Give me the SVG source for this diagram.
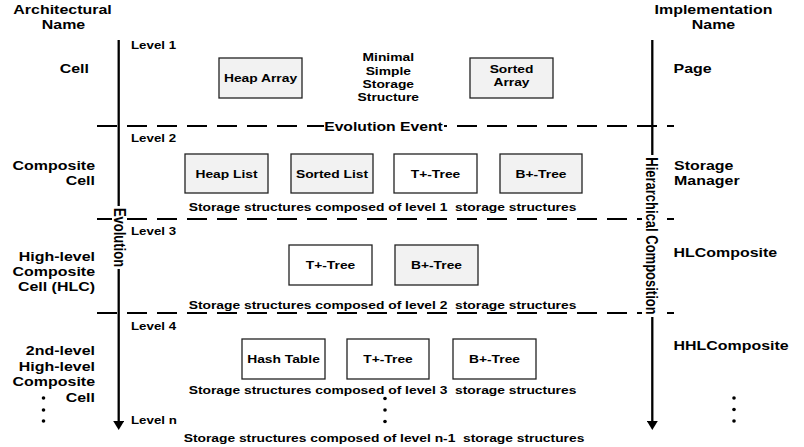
<svg xmlns="http://www.w3.org/2000/svg" width="804" height="447" viewBox="0 0 804 447">
<style>
  text { font-family: "Liberation Sans", Arial, sans-serif; font-weight: bold; fill: #000; }
  .h { font-size: 12px; }
  .s { font-size: 10.4px; }
  .lv { font-size: 10px; }
  .v { font-size: 13px; }
  .cap { white-space: pre; }
  .box { stroke: #222; stroke-width: 1.3; }
  .g { fill: #f2f2f2; }
  .w { fill: #ffffff; }
  .dash { stroke: #000; stroke-width: 2.1; stroke-dasharray: 20 10; fill: none; }
  .axis { stroke: #000; stroke-width: 2.3; fill: none; }
  .dot { fill: #000; }
</style>
<defs>
  <marker id="arr" viewBox="0 0 10 10" refX="0" refY="5" markerWidth="9" markerHeight="11" markerUnits="userSpaceOnUse" orient="auto" preserveAspectRatio="none">
    <path d="M0,0 L10,5 L0,10 z" fill="#000"/>
  </marker>
</defs>
<rect width="804" height="447" fill="#fff"/>

<!-- connectors: axes and level separators -->
<g id="connectors">
  <line class="dash" x1="97" y1="126" x2="674" y2="126"/>
  <line class="dash" x1="97" y1="219" x2="674" y2="219"/>
  <line class="dash" x1="97" y1="313" x2="674" y2="313"/>
  <line class="axis" x1="118.7" y1="40" x2="118.7" y2="421" marker-end="url(#arr)"/>
  <line class="axis" x1="652.3" y1="40" x2="652.3" y2="421" marker-end="url(#arr)"/>
</g>

<!-- axis labels -->
<g id="evolution-event">
  <rect x="324" y="119" width="120" height="14" fill="#fff"/>
  <text class="h" text-anchor="middle" transform="translate(383.5 130.5) scale(1.31 1)">Evolution Event</text>
</g>
<g id="evolution-axis-label">
  <rect x="112" y="206" width="15" height="63" fill="#fff"/>
  <text class="v" text-anchor="middle" transform="translate(113.5 237.5) scale(1.33 1) rotate(90)">Evolution</text>
</g>
<g id="composition-axis-label">
  <rect x="642" y="155" width="18" height="162" fill="#fff"/>
  <text class="v" text-anchor="middle" transform="translate(645.5 236) scale(1.33 1) rotate(90)">Hierarchical Composition</text>
</g>

<!-- column headers -->
<g id="header-architectural">
  <text class="h" text-anchor="middle" transform="translate(62.5 13.5) scale(1.33 1)">Architectural</text>
  <text class="h" text-anchor="middle" transform="translate(63.5 29.3) scale(1.33 1)">Name</text>
</g>
<g id="header-implementation">
  <text class="h" text-anchor="middle" transform="translate(713.5 13.5) scale(1.33 1)">Implementation</text>
  <text class="h" text-anchor="middle" transform="translate(713.5 29.3) scale(1.33 1)">Name</text>
</g>

<!-- level labels -->
<g id="levels">
  <text class="lv" transform="translate(131 48.5) scale(1.33 1)">Level 1</text>
  <text class="lv" transform="translate(131 141.7) scale(1.33 1)">Level 2</text>
  <text class="lv" transform="translate(131 235) scale(1.33 1)">Level 3</text>
  <text class="lv" transform="translate(131 330) scale(1.33 1)">Level 4</text>
  <text class="lv" transform="translate(131 424) scale(1.33 1)">Level n</text>
</g>

<!-- architectural names -->
<g id="arch-cell">
  <text class="h" text-anchor="end" transform="translate(89 72.7) scale(1.33 1)">Cell</text>
</g>
<g id="arch-composite-cell">
  <text class="h" text-anchor="end" transform="translate(95 169.5) scale(1.33 1)">Composite</text>
  <text class="h" text-anchor="end" transform="translate(95 184.5) scale(1.33 1)">Cell</text>
</g>
<g id="arch-hlc">
  <text class="h" text-anchor="end" transform="translate(95 260.5) scale(1.33 1)">High-level</text>
  <text class="h" text-anchor="end" transform="translate(95 275.5) scale(1.33 1)">Composite</text>
  <text class="h" text-anchor="end" transform="translate(95 290.5) scale(1.33 1)">Cell (HLC)</text>
</g>
<g id="arch-2nd-hlc">
  <text class="h" text-anchor="end" transform="translate(95 355) scale(1.33 1)">2nd-level</text>
  <text class="h" text-anchor="end" transform="translate(95 370.5) scale(1.33 1)">High-level</text>
  <text class="h" text-anchor="end" transform="translate(95 386) scale(1.33 1)">Composite</text>
  <text class="h" text-anchor="end" transform="translate(95 401.5) scale(1.33 1)">Cell</text>
  <circle class="dot" cx="43.5" cy="398" r="1.8"/>
  <circle class="dot" cx="43.5" cy="410" r="1.8"/>
  <circle class="dot" cx="43.5" cy="421" r="1.8"/>
</g>

<!-- implementation names -->
<g id="impl-page">
  <text class="h" transform="translate(673.5 72.5) scale(1.33 1)">Page</text>
</g>
<g id="impl-storage-manager">
  <text class="h" transform="translate(674 169.6) scale(1.33 1)">Storage</text>
  <text class="h" transform="translate(674 185) scale(1.33 1)">Manager</text>
</g>
<g id="impl-hlcomposite">
  <text class="h" transform="translate(673.5 257) scale(1.33 1)">HLComposite</text>
</g>
<g id="impl-hhlcomposite">
  <text class="h" transform="translate(673.5 350.3) scale(1.33 1)">HHLComposite</text>
  <circle class="dot" cx="734" cy="398" r="1.8"/>
  <circle class="dot" cx="734" cy="409.5" r="1.8"/>
  <circle class="dot" cx="734" cy="421" r="1.8"/>
</g>

<!-- level 1 -->
<g id="heap-array">
  <rect class="box g" x="219" y="58" width="83" height="40"/>
  <text class="s" text-anchor="middle" transform="translate(260.5 81.5) scale(1.33 1)">Heap Array</text>
</g>
<g id="minimal-structure">
  <text class="s" text-anchor="middle" transform="translate(388.3 61.3) scale(1.33 1)">Minimal</text>
  <text class="s" text-anchor="middle" transform="translate(388.3 74.5) scale(1.33 1)">Simple</text>
  <text class="s" text-anchor="middle" transform="translate(388.3 87.7) scale(1.33 1)">Storage</text>
  <text class="s" text-anchor="middle" transform="translate(388.3 101) scale(1.33 1)">Structure</text>
</g>
<g id="sorted-array">
  <rect class="box g" x="470" y="58" width="83" height="40"/>
  <text class="s" text-anchor="middle" transform="translate(511.5 73.2) scale(1.33 1)">Sorted</text>
  <text class="s" text-anchor="middle" transform="translate(511.5 86.2) scale(1.33 1)">Array</text>
</g>

<!-- level 2 -->
<g id="heap-list">
  <rect class="box g" x="185" y="154" width="83" height="39"/>
  <text class="s" text-anchor="middle" transform="translate(226.5 177.5) scale(1.33 1)">Heap List</text>
</g>
<g id="sorted-list">
  <rect class="box g" x="291" y="154" width="82" height="39"/>
  <text class="s" text-anchor="middle" transform="translate(332 177.5) scale(1.33 1)">Sorted List</text>
</g>
<g id="tplus-tree-2">
  <rect class="box w" x="394" y="154" width="83" height="39"/>
  <text class="s" text-anchor="middle" transform="translate(435.5 177.5) scale(1.33 1)">T+-Tree</text>
</g>
<g id="bplus-tree-2">
  <rect class="box g" x="500" y="154" width="82" height="39"/>
  <text class="s" text-anchor="middle" transform="translate(541 177.5) scale(1.33 1)">B+-Tree</text>
</g>
<g id="caption-1">
  <text class="s cap" text-anchor="middle" transform="translate(382.5 210.5) scale(1.33 1)">Storage structures composed of level 1 &#160;storage structures</text>
</g>

<!-- level 3 -->
<g id="tplus-tree-3">
  <rect class="box w" x="289" y="245" width="83" height="40"/>
  <text class="s" text-anchor="middle" transform="translate(330.5 269) scale(1.33 1)">T+-Tree</text>
</g>
<g id="bplus-tree-3">
  <rect class="box g" x="395" y="245" width="83" height="40"/>
  <text class="s" text-anchor="middle" transform="translate(436.5 269) scale(1.33 1)">B+-Tree</text>
</g>
<g id="caption-2">
  <text class="s cap" text-anchor="middle" transform="translate(382.5 309.3) scale(1.33 1)">Storage structures composed of level 2 &#160;storage structures</text>
</g>

<!-- level 4 -->
<g id="hash-table">
  <rect class="box w" x="242" y="339" width="83" height="40"/>
  <text class="s" text-anchor="middle" transform="translate(283.5 363) scale(1.33 1)">Hash Table</text>
</g>
<g id="tplus-tree-4">
  <rect class="box w" x="347" y="339" width="82" height="40"/>
  <text class="s" text-anchor="middle" transform="translate(388 363) scale(1.33 1)">T+-Tree</text>
</g>
<g id="bplus-tree-4">
  <rect class="box w" x="453" y="339" width="83" height="40"/>
  <text class="s" text-anchor="middle" transform="translate(494.5 363) scale(1.33 1)">B+-Tree</text>
</g>
<g id="caption-3">
  <text class="s cap" text-anchor="middle" transform="translate(382.5 394) scale(1.33 1)">Storage structures composed of level 3 &#160;storage structures</text>
  <circle class="dot" cx="385" cy="398.5" r="1.8"/>
  <circle class="dot" cx="385" cy="410" r="1.8"/>
  <circle class="dot" cx="385" cy="421.5" r="1.8"/>
</g>
<g id="caption-n">
  <text class="s cap" text-anchor="middle" transform="translate(384 441.5) scale(1.33 1)">Storage structures composed of level n-1 &#160;storage structures</text>
</g>
</svg>
